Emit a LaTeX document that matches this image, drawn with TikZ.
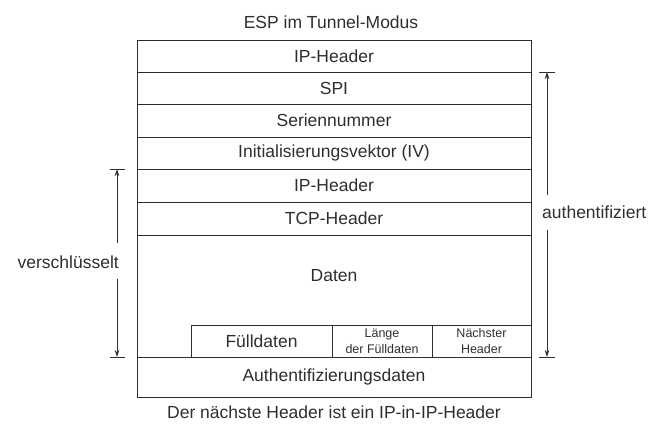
\documentclass[tikz,border=0pt]{standalone}
\usepackage{fontspec}
\setmainfont{Liberation Sans}
\usetikzlibrary{arrows.meta}
\definecolor{ink}{HTML}{2E2E2E}
\begin{document}
\begin{tikzpicture}[x=1pt,y=-1pt,
  every node/.style={text=ink},
  row/.style={draw=ink, line width=0.9pt, minimum width=394pt, inner sep=0pt, font=\fontsize{17.5}{20}\selectfont},
  cell/.style={draw=ink, line width=0.9pt, inner sep=0pt, minimum height=32pt},
  big/.style={font=\fontsize{17.5}{20}\selectfont},
  small/.style={font=\fontsize{12.5}{16}\selectfont, align=center},
  bar/.style={draw=ink, line width=0.9pt},
  arr/.style={draw=ink, line width=0.9pt, -{Stealth[length=7pt,width=4.5pt]}}
]
\useasboundingbox (0,0) rectangle (650,428);
% title
\node[big] (title) at (331,22) {ESP im Tunnel-Modus};
% rows
\node[row, minimum height=32pt] (r1) at (334,56) {IP-Header};
\node[row, minimum height=32pt] (r2) at (334,88) {SPI};
\node[row, minimum height=33pt] (r3) at (334,120.5) {Seriennummer};
\node[row, minimum height=32pt] (r4) at (334,153) {Initialisierungsvektor (IV)};
\node[row, minimum height=33pt] (r5) at (334,185.5) {IP-Header};
\node[row, minimum height=33pt] (r6) at (334,218.5) {TCP-Header};
\node[row, minimum height=122pt] (r7) at (334,296) {};
\node[big] (daten) at (334,276) {Daten};
\node[row, minimum height=40pt] (r8) at (334,377) {Authentifizierungsdaten};
% sub cells
\node[cell, minimum width=141pt, big] (fd) at (261.5,341) {Fülldaten};
\node[cell, minimum width=100pt, small] (lf) at (382,341) {Länge\\der Fülldaten};
\node[cell, minimum width=99pt, small] (nh) at (481.5,341) {Nächster\\Header};
% caption
\node[big] (cap) at (334,412) {Der nächste Header ist ein IP-in-IP-Header};
% left dimension
\coordinate (lt) at (117,169);
\coordinate (lb) at (117,357);
\coordinate (lgt) at (117,243);
\coordinate (lgb) at (117,279);
\node[big, anchor=east, inner sep=0pt] (vl) at (119,262) {verschlüsselt};
\draw[bar] ([xshift=-7.5pt]lt) -- ([xshift=7.5pt]lt);
\draw[bar] ([xshift=-7.5pt]lb) -- ([xshift=7.5pt]lb);
\draw[arr] (lgt) -- (lt);
\draw[arr] (lgb) -- (lb);
% right dimension
\coordinate (rt) at (547,72);
\coordinate (rb) at (547,357);
\coordinate (rgt) at (547,195);
\coordinate (rgb) at (547,230);
\node[big, anchor=west, inner sep=0pt] (al) at (542,212) {authentifiziert};
\draw[bar] ([xshift=-8pt]rt) -- ([xshift=8pt]rt);
\draw[bar] ([xshift=-8pt]rb) -- ([xshift=8pt]rb);
\draw[arr] (rgt) -- (rt);
\draw[arr] (rgb) -- (rb);
\end{tikzpicture}
\end{document}
